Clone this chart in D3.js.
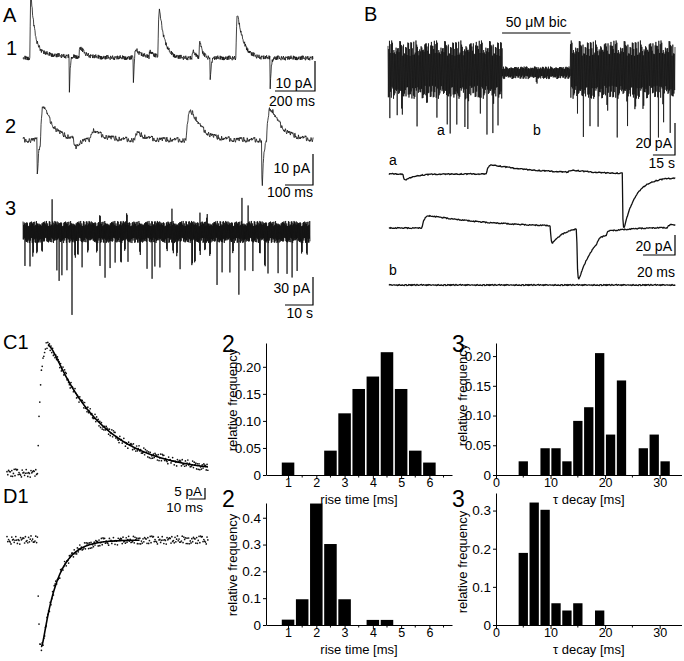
<!DOCTYPE html>
<html>
<head>
<meta charset="utf-8">
<script src="https://cdn.jsdelivr.net/npm/d3@7"></script>
<style>
body { margin: 0; background: #fff; }
svg text { font-family: "Liberation Sans", Arial, sans-serif; fill: #000; }
</style>
</head>
<body>
<svg id="fig" width="684" height="661"></svg>
<script>
// hand-typed baseline noise pattern (cycled through each trace)
var noiseTable = [0.31,-0.72,0.88,-0.18,-0.93,0.52,0.07,-0.41,0.79,-0.63,0.22,0.69,-0.84,-0.09,0.61,-0.33,0.95,-0.52,0.02,0.44,-0.97,0.36,-0.14,0.74,-0.47,0.16,-0.86,0.57,0.27,-0.66,0.83,-0.24,-0.56,0.48,0.04,-0.77,0.64,-0.37,0.91,-0.06,-0.89,0.29,0.59,-0.43,0.12,-0.61,0.81,-0.21,0.53,-0.79,0.19,-0.29,0.71,-0.01,-0.71,0.39,-0.11,0.97,-0.49,0.14,-0.83];

// A1 events: [time ms, amplitude pA, rise ms, decay ms]
var a1Events = [[35,37,2,18],[35,4,2,150],[230,-27,0.5,4],[280,6,3,25],[550,-19,0.5,4],[555,6,3,30],[630,4,3,20],[675,31,3,25],[845,4,3,15],[880,11,2,12],[935,-16,0.5,4],[1065,28,3,30],[1235,-21,0.5,4]];
// A2 events
var a2Events = [[50,-11,0.5,5],[62,11,5,36],[180,-3,3,15],[240,3,5,40],[400,2,5,30],[583,9,12,36],[853,-16,0.5,5],[870,10,8,40]];
// A3 spikes: [time s, amplitude pA]
var a3Spikes = [[0.7,-27],[2.5,-30],[3.6,-41],[5.0,-34],[6.8,-30],[12.1,-34],[12.9,-43],[13.9,-35],[15.7,-30],[17.5,-77],[18.6,-46],[19.6,-37],[21.1,-30],[23.2,-27],[26.4,-34],[27.5,-30],[29.3,-39],[31.1,-30],[32.9,-23],[35.0,-66],[36.4,-30],[37.5,-23],[41.8,-34],[44.3,-30],[46.1,-41],[47.1,-30],[48.9,-30],[51.4,-30],[53.6,-34],[55.0,-39],[56.1,-30],[60.4,-71],[61.4,-66],[63.2,-34],[65.0,-30],[66.8,-41],[69.3,-50],[71.1,-37],[73.9,-34],[75.0,-30],[77.1,-59],[79.3,-30],[82.1,-34],[84.6,-37],[86.4,-70],[87.5,-37],[91.1,-34],[94.3,-37],[96.1,-41],[97.9,-34],[99.6,-37],[101.4,-43],
  [10.4,24],[37.1,26],[78.2,27],[27.5,18],[53.2,18],[65.7,20],[80.4,18],[63.2,14]];
// B overview: bicuculline application window (s) and large downward events [time s, pA]
var bicWindow = [77.5, 124];
var bSpikes = [[1.4,-26],[6.1,-24],[9.5,-32],[19.7,-27],[26.5,-25],[33.3,-22],[40.1,-29],[42.2,-31],[46.9,-26],[52.4,-35],[54.4,-31],[62.6,-27],[67.3,-31],[71.4,-37],[74.8,-22],[101,-9],
  [128.6,-24],[132.7,-29],[137.4,-32],[142.9,-34],[149,-29],[155.8,-35],[162.6,-30],[168,-25],[173.5,-27],[178.2,-36],[183.7,-29],[187.1,-27],[191.8,-30]];
// B expanded traces (ms, pA)
var ba1Events = [[8.75,-6,0.5,6],[61,9,1,30],[112,2,2,10],[146,-50,0.3,7],[146,-5,0.3,100]];
var ba2Events = [[20.6,12,1.5,45],[101,-17,0.4,8],[117.5,-50,0.4,10],[130,3,1,5],[136,3,1,5],[174,3,2,6]];
// C1 / D1 averaged events and fits: [onset ms, peak pA, rise ms, decay ms]
var c1Event = [19, 58, 2.5, 32];
var d1Event = [19, -48.6, 1, 9.4];

// histograms
var riseBinsC = [1, 2.5, 3, 3.5, 4, 4.5, 5, 5.5, 6];
var riseFreqC = [0.023, 0.045, 0.114, 0.159, 0.182, 0.227, 0.159, 0.045, 0.023];
var decayBinsC = [5, 9, 11, 13, 15, 17, 19, 21, 23, 27, 29, 31];
var decayFreqC = [0.023, 0.045, 0.045, 0.023, 0.091, 0.114, 0.205, 0.068, 0.159, 0.045, 0.068, 0.023];
var riseBinsD = [1, 1.5, 2, 2.5, 3, 4, 4.5];
var riseFreqD = [0.02, 0.096, 0.453, 0.302, 0.096, 0.019, 0.019];
var decayBinsD = [5, 7, 9, 11, 13, 15, 19];
var decayFreqD = [0.189, 0.321, 0.302, 0.057, 0.038, 0.057, 0.038];
var riseTicks = [1, 2, 3, 4, 5, 6];
var decayTicks = [0, 10, 20, 30];
var yTicksC = [0, 0.05, 0.10, 0.15, 0.20];
var yTicksD2 = [0, 0.1, 0.2, 0.3, 0.4];
var yTicksD3 = [0, 0.1, 0.2, 0.3];

var svg = d3.select("#fig");

function noiseAt(i, stride, off) {
  return noiseTable[(i * stride + off) % noiseTable.length];
}

function evValue(e, t) {
  var dt = t - e[0];
  if (dt <= 0) return 0;
  var r = e[2], d = e[3],
    tp = r * Math.log((r + d) / r),
    norm = Math.exp(-tp / d) * d / (r + d);
  return e[1] * (1 - Math.exp(-dt / r)) * Math.exp(-dt / d) / norm;
}

function evSum(events, t) {
  var s = 0;
  events.forEach(function(e) { s += evValue(e, t); });
  return s;
}

function traceLine(x, y) {
  return d3.line().x(function(d) { return x(d[0]); }).y(function(d) { return y(d[1]); });
}

function drawTrace(o) {
  var pts = [], n = Math.round((o.t1 - o.t0) / o.step), i, t;
  for (i = 0; i <= n; i++) {
    t = o.t0 + i * o.step;
    pts.push([t, evSum(o.events, t) + noiseAt(i, o.stride, o.off) * o.noise]);
  }
  svg.append("path")
    .datum(pts)
    .attr("d", traceLine(o.x, o.y))
    .attr("fill", "none")
    .attr("stroke", "#111")
    .attr("stroke-width", o.sw || 0.9)
    .attr("stroke-linejoin", "round");
}

function drawDense(o) {
  var pts = [], n = Math.round((o.t1 - o.t0) / o.step), i, t, env, a, v;
  for (i = 0; i <= n; i++) {
    t = o.t0 + i * o.step;
    env = o.env(t);
    a = Math.abs(noiseAt(i, o.stride, o.off));
    v = (i % 2 === 0 ? env[0] : -env[1]) * (0.5 + 0.5 * a);
    o.spikes.forEach(function(s) {
      if ((s[1] < 0) === (i % 2 === 1)) {
        var k = 1 - Math.abs(t - s[0]) / (o.step * 1.6);
        if (k > 0) v += s[1] * k;
      }
    });
    pts.push([t, v]);
  }
  svg.append("path")
    .datum(pts)
    .attr("d", traceLine(o.x, o.y))
    .attr("fill", "none")
    .attr("stroke", "#111")
    .attr("stroke-width", o.sw || 0.7);
}

function scaleBar(x0, yTop, yBottom, xLeft, vText, vy, hText, hy) {
  svg.append("path")
    .attr("d", "M" + x0 + "," + yTop + "V" + yBottom + "H" + xLeft)
    .attr("fill", "none")
    .attr("stroke", "#000")
    .attr("stroke-width", 1.2);
  svg.append("text").attr("x", x0 - 3).attr("y", vy).attr("text-anchor", "end")
    .style("font-size", "14px").text(vText);
  svg.append("text").attr("x", x0).attr("y", hy).attr("text-anchor", "end")
    .style("font-size", "14px").text(hText);
}

function label(x, y, txt, size) {
  svg.append("text").attr("x", x).attr("y", y).style("font-size", size + "px").text(txt);
}

// ---------- A ----------
label(3, 22, "A", 20);
label(6, 55, "1", 20);
label(5, 133, "2", 20);
label(5, 215, "3", 20);

var xA1 = d3.scaleLinear().domain([0, 1450]).range([23, 313]),
  yA1 = d3.scaleLinear().domain([0, 10]).range([58, 43]);
drawTrace({x: xA1, y: yA1, t0: 0, t1: 1450, step: 2, events: a1Events, noise: 1.6, stride: 7, off: 3, sw: 0.8});
scaleBar(315, yA1(10) + 18, yA1(0) + 33, 315 - (xA1(200) - xA1(0)), "10 pA", 88, "200 ms", 106);

var xA2 = d3.scaleLinear().domain([0, 1036]).range([23, 313]),
  yA2 = d3.scaleLinear().domain([0, 10]).range([140, 109]);
drawTrace({x: xA2, y: yA2, t0: 0, t1: 1036, step: 1.5, events: a2Events, noise: 0.9, stride: 11, off: 5, sw: 0.8});
scaleBar(313, 154, 154 + (yA2(0) - yA2(10)), 313 - (xA2(100) - xA2(0)), "10 pA", 173, "100 ms", 197);

var xA3 = d3.scaleLinear().domain([0, 102.5]).range([23, 310]),
  yA3 = d3.scaleLinear().domain([0, 30]).range([232, 204]);
drawDense({x: xA3, y: yA3, t0: 0, t1: 102.5, step: 0.1, spikes: a3Spikes, stride: 13, off: 2, sw: 0.8,
  env: function() { return [12, 12]; }});
scaleBar(313, 277, 277 + (yA3(0) - yA3(30)), 313 - (xA3(10) - xA3(0)), "30 pA", 293, "10 s", 318);

// ---------- B ----------
label(364, 21, "B", 20);
var xB = d3.scaleLinear().domain([0, 195]).range([388, 675]),
  yB = d3.scaleLinear().domain([0, 20]).range([72, 40]);
drawDense({x: xB, y: yB, t0: 0, t1: 195, step: 0.25, spikes: bSpikes, stride: 17, off: 9, sw: 0.75,
  env: function(t) {
    return (t > bicWindow[0] && t < bicWindow[1]) ? [3.5, 4.5] : [20, 17];
  }});
svg.append("line")
  .attr("x1", xB(bicWindow[0])).attr("x2", xB(bicWindow[1]))
  .attr("y1", 33).attr("y2", 33)
  .attr("stroke", "#000").attr("stroke-width", 1.2);
svg.append("text").attr("x", (xB(bicWindow[0]) + xB(bicWindow[1])) / 2).attr("y", 27)
  .attr("text-anchor", "middle").style("font-size", "14px").text("50 \u03BCM bic");
label(437, 135, "a", 14);
label(533, 135, "b", 14);
scaleBar(675, 123, 123 + (yB(0) - yB(20)), 675 - (xB(15) - xB(0)), "20 pA", 148, "15 s", 168);

var xBe = d3.scaleLinear().domain([0, 179]).range([389, 675]),
  yBa1 = d3.scaleLinear().domain([0, 20]).range([174, 154]),
  yBa2 = d3.scaleLinear().domain([0, 20]).range([228, 208]),
  yBb = d3.scaleLinear().domain([0, 20]).range([285, 265]);
label(389, 165, "a", 14);
drawTrace({x: xBe, y: yBa1, t0: 0, t1: 179, step: 0.4, events: ba1Events, noise: 0.55, stride: 19, off: 4, sw: 1.3});
drawTrace({x: xBe, y: yBa2, t0: 0, t1: 179, step: 0.4, events: ba2Events, noise: 0.55, stride: 23, off: 8, sw: 1.3});
label(389, 275, "b", 14);
drawTrace({x: xBe, y: yBb, t0: 0, t1: 179, step: 0.4, events: [], noise: 0.6, stride: 29, off: 1, sw: 1.3});
scaleBar(675, 235, 235 + (yBa2(0) - yBa2(20)), 675 - (xBe(20) - xBe(0)), "20 pA", 251, "20 ms", 277);

// ---------- C1 / D1 ----------
label(3, 349, "C1", 20);
label(3, 503, "D1", 20);

var xC = d3.scaleLinear().domain([0, 125.6]).range([7, 208]),
  yC1 = d3.scaleLinear().domain([0, 5]).range([473, 462]),
  yD1 = d3.scaleLinear().domain([0, 5]).range([540, 529]);

function drawAverage(ev, y, off, fitEnd) {
  var dots = [], fit = [], i, t,
    tp = ev[0] + ev[2] * Math.log((ev[2] + ev[3]) / ev[2]);
  for (i = 0; i <= 251; i++) {
    t = i * 0.5;
    dots.push([t, evValue(ev, t) + noiseAt(i, 7, off) * 1.9]);
  }
  for (t = tp; t <= fitEnd; t += 0.25) fit.push([t, evValue(ev, t)]);
  svg.append("g").selectAll("circle")
    .data(dots)
    .enter().append("circle")
    .attr("cx", function(d) { return xC(d[0]); })
    .attr("cy", function(d) { return y(d[1]); })
    .attr("r", 0.85)
    .attr("fill", "#111");
  svg.append("path")
    .datum(fit)
    .attr("d", traceLine(xC, y))
    .attr("fill", "none")
    .attr("stroke", "#000")
    .attr("stroke-width", 1.6);
}
drawAverage(c1Event, yC1, 0, 125.6);
drawAverage(d1Event, yD1, 30, 83);

svg.append("path")
  .attr("d", "M205,488V" + (488 + yC1(0) - yC1(5)) + "H" + (205 - (xC(10) - xC(0))))
  .attr("fill", "none").attr("stroke", "#000").attr("stroke-width", 1.2);
svg.append("text").attr("x", 202).attr("y", 496).attr("text-anchor", "end").style("font-size", "13.5px").text("5 pA");
svg.append("text").attr("x", 203).attr("y", 512).attr("text-anchor", "end").style("font-size", "13.5px").text("10 ms");

// ---------- histograms ----------
function histogram(o) {
  var g = svg.append("g"),
    bw = o.binWidth;
  g.selectAll("rect")
    .data(o.bins)
    .enter().append("rect")
    .attr("x", function(d) { return o.x(d - bw / 2) + 0.8; })
    .attr("width", o.x(bw) - o.x(0) - 1.6)
    .attr("y", function(d, i) { return o.y(o.freq[i]); })
    .attr("height", function(d, i) { return o.y(0) - o.y(o.freq[i]); })
    .attr("fill", "#000");

  var ya = g.append("g")
    .attr("transform", "translate(" + o.x.range()[0] + ",0)")
    .call(d3.axisLeft(o.y).tickValues(o.yTicks).tickSize(3).tickSizeOuter(0)
      .tickFormat(function(d) { return d === 0 ? "0" : d3.format(o.yFmt)(d); }));
  var xa = g.append("g")
    .attr("transform", "translate(0," + o.y.range()[0] + ")")
    .call(d3.axisBottom(o.x).tickValues(o.xTicks).tickSize(4).tickSizeOuter(0)
      .tickFormat(d3.format("d")));
  [ya, xa].forEach(function(a) {
    a.attr("font-family", null).attr("font-size", null);
    a.selectAll("path, line").attr("stroke", "#000").attr("stroke-width", 1);
    a.selectAll("text").style("font-size", "13.5px").attr("fill", "#000");
  });
  ya.selectAll("text").attr("x", -5);
  xa.selectAll("text").attr("y", 3).style("font-size", "12.5px");

  g.selectAll("line.minor")
    .data(o.minor)
    .enter().append("line")
    .attr("class", "minor")
    .attr("x1", function(d) { return o.x(d); })
    .attr("x2", function(d) { return o.x(d); })
    .attr("y1", o.y.range()[0])
    .attr("y2", o.y.range()[0] + 2.5)
    .attr("stroke", "#000");

  g.append("text")
    .attr("x", (o.x.range()[0] + o.x.range()[1]) / 2)
    .attr("y", o.y.range()[0] + 29)
    .attr("text-anchor", "middle")
    .style("font-size", "13px")
    .text(o.xTitle);
  g.append("text")
    .attr("transform", "translate(" + (o.x.range()[0] - 29) + "," + o.yLabelMid + ") rotate(-90)")
    .attr("text-anchor", "middle")
    .style("font-size", "13px")
    .text("relative frequency");
  g.append("text")
    .attr("x", o.x.range()[0] - 44)
    .attr("y", o.numY)
    .style("font-size", "23px")
    .text(o.num);
}

histogram({
  x: d3.scaleLinear().domain([0.22, 6.8]).range([266, 452]),
  y: d3.scaleLinear().domain([0, 0.244]).range([475, 343]),
  bins: riseBinsC, freq: riseFreqC, binWidth: 0.5,
  xTicks: riseTicks, minor: [1.5, 2.5, 3.5, 4.5, 5.5, 6.5],
  yTicks: yTicksC, yFmt: ".2f",
  xTitle: "rise time [ms]", yLabelMid: 400, num: "2", numY: 352
});
histogram({
  x: d3.scaleLinear().domain([0, 34]).range([496, 681.5]),
  y: d3.scaleLinear().domain([0, 0.222]).range([475, 343]),
  bins: decayBinsC, freq: decayFreqC, binWidth: 2,
  xTicks: decayTicks, minor: [5, 15, 25],
  yTicks: yTicksC, yFmt: ".2f",
  xTitle: "\u03C4 decay [ms]", yLabelMid: 395, num: "3", numY: 352
});
histogram({
  x: d3.scaleLinear().domain([0.22, 6.8]).range([266, 452]),
  y: d3.scaleLinear().domain([0, 0.455]).range([625, 503]),
  bins: riseBinsD, freq: riseFreqD, binWidth: 0.5,
  xTicks: riseTicks, minor: [1.5, 2.5, 3.5, 4.5, 5.5, 6.5],
  yTicks: yTicksD2, yFmt: ".1f",
  xTitle: "rise time [ms]", yLabelMid: 565, num: "2", numY: 507
});
histogram({
  x: d3.scaleLinear().domain([0, 34]).range([496, 681.5]),
  y: d3.scaleLinear().domain([0, 0.346]).range([625, 493]),
  bins: decayBinsD, freq: decayFreqD, binWidth: 2,
  xTicks: decayTicks, minor: [5, 15, 25],
  yTicks: yTicksD3, yFmt: ".1f",
  xTitle: "\u03C4 decay [ms]", yLabelMid: 562, num: "3", numY: 507
});
</script>
</body>
</html>
